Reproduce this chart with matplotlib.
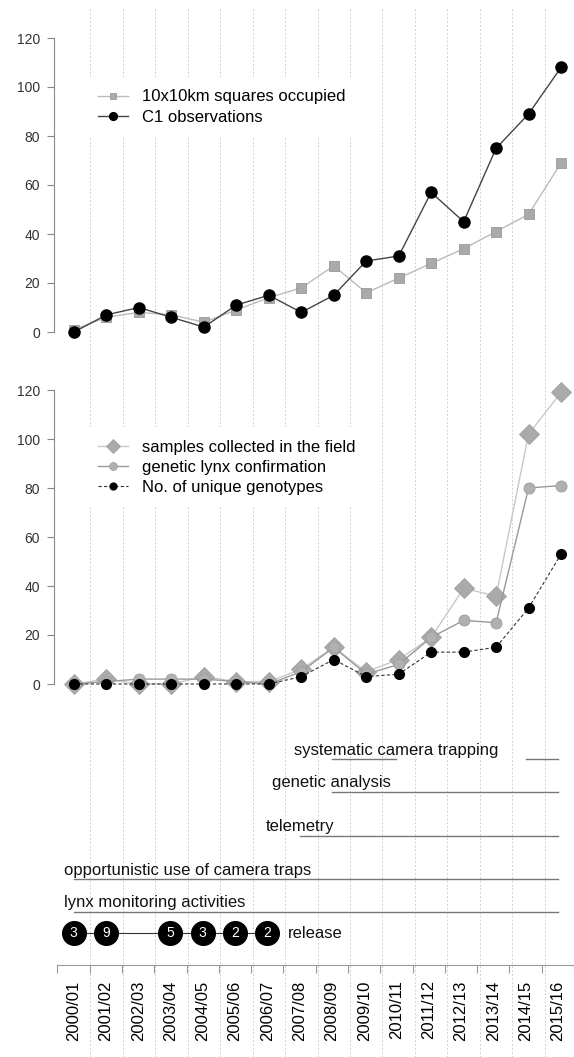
import matplotlib
matplotlib.use("Agg")
import matplotlib.pyplot as plt
import numpy as np

plt.rcParams['font.family'] = ['Liberation Sans', 'DejaVu Sans']

# seasons on the shared x axis
seasons = ["2000/01", "2001/02", "2002/03", "2003/04", "2004/05", "2005/06",
           "2006/07", "2007/08", "2008/09", "2009/10", "2010/11", "2011/12",
           "2012/13", "2013/14", "2014/15", "2015/16"]

# upper panel: distribution / C1 observations
squares_occupied = [1, 6, 8, 7, 4, 9, 14, 18, 27, 16, 22, 28, 34, 41, 48, 69]
c1_observations = [0, 7, 10, 6, 2, 11, 15, 8, 15, 29, 31, 57, 45, 75, 89, 108]

# lower panel: genetic monitoring
samples_collected = [0, 2, 0, 0, 3, 1, 1, 6, 15, 5, 10, 19, 39, 36, 102, 119]
genetic_confirmation = [0, 1, 2, 2, 2, 1, 0, 5, 15, 4, 8, 19, 26, 25, 80, 81]
unique_genotypes = [0, 0, 0, 0, 0, 0, 0, 3, 10, 3, 4, 13, 13, 15, 31, 53]

# monitoring activities (start, end) as season index
activity_names = ["systematic camera trapping", "genetic analysis", "telemetry",
                  "opportunistic use of camera traps", "lynx monitoring activities"]
activity_spans = [[(8, 10), (14, 15)], [(8, 15)], [(7, 15)], [(0, 15)], [(0, 15)]]

# released lynx per season
release_idx = [0, 1, 3, 4, 5, 6]
release_n = [3, 9, 5, 3, 2, 2]

W, H = 574, 1057
X0, DX = 74.0, 32.47
fig = plt.figure(figsize=(W / 100, H / 100), dpi=100)


def rect(x0, y0, x1, y1):
    return [x0 / W, 1 - y1 / H, (x1 - x0) / W, (y1 - y0) / H]


def xlims(a, b):
    return ((a - X0) / DX, (b - X0) / DX)


x = np.arange(len(seasons))

# background grid running through every panel
bg = fig.add_axes(rect(0, 0, W, H), zorder=0)
bg.set_xlim(*xlims(0, W))
bg.set_ylim(H, 0)
bg.axis('off')
bg.vlines(np.arange(0.5, 15, 1), 9, H, color='#d0d0d0', lw=0.7,
          linestyle=(0, (2, 2)))


def panel(y_top, y_bot):
    ax = fig.add_axes(rect(54, y_top, W, y_bot), zorder=2)
    ax.patch.set_alpha(0)
    ax.set_xlim(*xlims(54, W))
    ax.set_ylim(0, 120)
    for s in ['top', 'right', 'bottom']:
        ax.spines[s].set_visible(False)
    ax.spines['left'].set_color('#888888')
    ax.spines['left'].set_linewidth(0.8)
    ax.set_xticks([])
    ax.set_yticks(range(0, 121, 20))
    ax.tick_params(axis='y', length=5, width=0.8, color='#888888',
                   labelsize=10, labelcolor='#333333', pad=5)
    return ax


leg_kw = dict(loc='upper left', fontsize=12, frameon=True, facecolor='white',
              edgecolor='none', framealpha=1, borderaxespad=0, borderpad=0.75,
              handlelength=1.8, handletextpad=0.85, labelspacing=0.3,
              markerscale=0.7, bbox_transform=fig.transFigure)

# upper panel
ax1 = panel(38, 332)
ax1.plot(x, squares_occupied, color='#bbbbbb', lw=1, marker='s', ms=6.5,
         mfc='#aaaaaa', mec='#999999', mew=0.6, clip_on=False,
         label='10x10km squares occupied')
ax1.plot(x, c1_observations, color='#444444', lw=1, marker='o', ms=8,
         mfc='black', mec='black', clip_on=False, label='C1 observations')
ax1.legend(bbox_to_anchor=(85 / W, 1 - 77 / H), **leg_kw)

# lower panel
ax2 = panel(390, 684)
ax2.plot(x, samples_collected, color='#c8c8c8', lw=1, marker='D', ms=10,
         mfc='#aaaaaa', mec='#a0a0a0', mew=0.6, clip_on=False,
         label='samples collected in the field')
ax2.plot(x, genetic_confirmation, color='#999999', lw=1, marker='o', ms=8,
         mfc='#b0b0b0', mec='#a0a0a0', mew=0.6, clip_on=False,
         label='genetic lynx confirmation')
ax2.plot(x, unique_genotypes, color='#333333', lw=0.8, ls=(0, (3, 2)),
         marker='o', ms=7, mfc='black', mec='black', clip_on=False,
         label='No. of unique genotypes')
ax2.legend(bbox_to_anchor=(85 / W, 1 - 427 / H), **leg_kw)

# timeline of activities and releases, with the season axis
ax3 = fig.add_axes(rect(0, 740, W, 965), zorder=2)
ax3.patch.set_alpha(0)
ax3.set_xlim(*xlims(0, W))
ax3.set_ylim(0, 225)
for s in ['top', 'right', 'left']:
    ax3.spines[s].set_visible(False)
ax3.spines['bottom'].set_bounds(-0.5, 15.5)
ax3.spines['bottom'].set_color('#999999')
ax3.spines['bottom'].set_linewidth(0.8)
ax3.set_yticks([])
ax3.set_xticks(np.arange(-0.5, 16, 1))
ax3.set_xticklabels([])
ax3.tick_params(axis='x', which='major', length=6, width=0.8, color='#999999')
ax3.set_xticks(x, minor=True)
ax3.set_xticklabels(seasons, minor=True, rotation=90, fontsize=12)
ax3.tick_params(axis='x', which='minor', length=0, pad=11)

row_y = [206, 173, 129, 86, 53]
label_pos = [(10, 'center'), (8, 'center'), (7, 'center'),
             (-0.31, 'left'), (-0.31, 'left')]
for name, spans, yy, (lx, ha) in zip(activity_names, activity_spans, row_y,
                                     label_pos):
    for a, b in spans:
        ax3.plot([a, b], [yy, yy], color='#777777', lw=1)
    ax3.text(lx, yy + 9, name, ha=ha, va='center', fontsize=12, color='#111111')

rel_y = 32
ax3.plot(release_idx, [rel_y] * len(release_idx), color='#333333', lw=0.8)
ax3.scatter(release_idx, [rel_y] * len(release_idx), s=290, color='black',
            zorder=3, clip_on=False)
for i, n in zip(release_idx, release_n):
    ax3.text(i, rel_y, str(n), ha='center', va='center', fontsize=10,
             color='white', zorder=4)
ax3.text((290 - X0) / DX, rel_y, 'release', ha='left', va='center',
         fontsize=12, color='#111111')

fig.savefig('out.png', dpi=100)
